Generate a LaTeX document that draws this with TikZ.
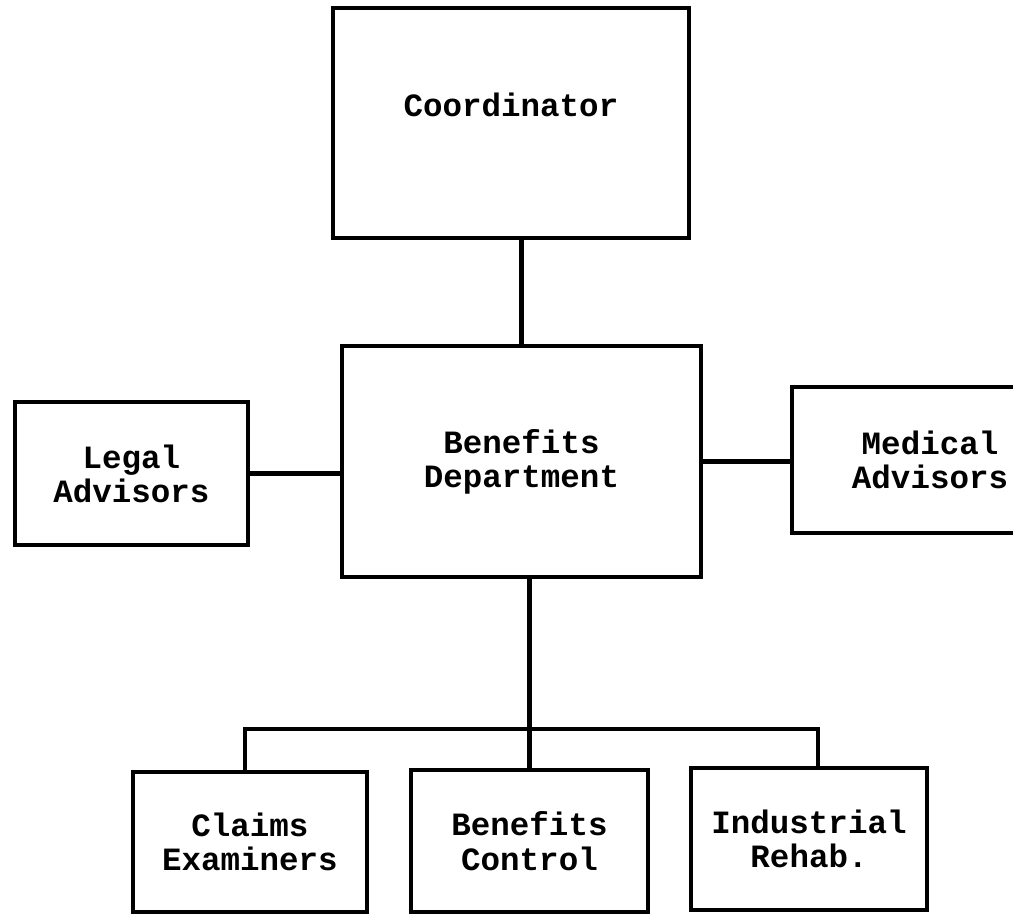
\documentclass[tikz,border=0pt]{standalone}
\usepackage{fontspec}
\setmonofont{Liberation Mono}
\usetikzlibrary{calc}

\begin{document}
\begin{tikzpicture}[
    x=0.02cm, y=-0.02cm,
    unit/.style={draw, line width=2.5pt, align=center, inner sep=0pt,
        font=\ttfamily\bfseries\fontsize{18.5}{19.5}\selectfont},
    link/.style={line width=2.5pt}]
    % page frame
    \useasboundingbox (0,0) rectangle (1013,914);
    \clip (0,0) rectangle (1013,914);
    % top and middle row
    \node[unit, minimum width=7.12cm, minimum height=4.6cm,
        text height=0.45cm, text depth=0.7cm] (coord) at (511,123) {Coordinator};
    \node[unit, minimum width=7.18cm, minimum height=4.62cm] (bene) at (521.5,461.5) {Benefits\\Department};
    \node[unit, minimum width=4.66cm, minimum height=2.86cm] (legal) at (131.5,473.5) {Legal\\Advisors};
    \node[unit, minimum width=5.52cm, minimum height=2.92cm] (medical) at (930,460) {Medical\\Advisors};
    % bottom row
    \node[unit, minimum width=4.68cm, minimum height=2.8cm] (claims) at (250,842) {Claims\\Examiners};
    \node[unit, minimum width=4.74cm, minimum height=2.84cm] (control) at (529.5,841) {Benefits\\Control};
    \node[unit, minimum width=4.72cm, minimum height=2.84cm] (indus) at (809,839) {Industrial\\Rehab.};
    \coordinate (bar) at (527,729);
    % connectors
    \draw[link] (coord.south -| bene.north) -- (bene.north);
    \draw[link] (legal.east) -- (legal.east -| bene.west);
    \draw[link] (bene.east) -- (bene.east -| medical.west);
    \draw[link] (control.north |- bene.south) -- (control.north);
    \draw[link] ([xshift=-0.1cm]claims.north) |- (bar) -| ([xshift=0.18cm]indus.north);
\end{tikzpicture}
\end{document}
